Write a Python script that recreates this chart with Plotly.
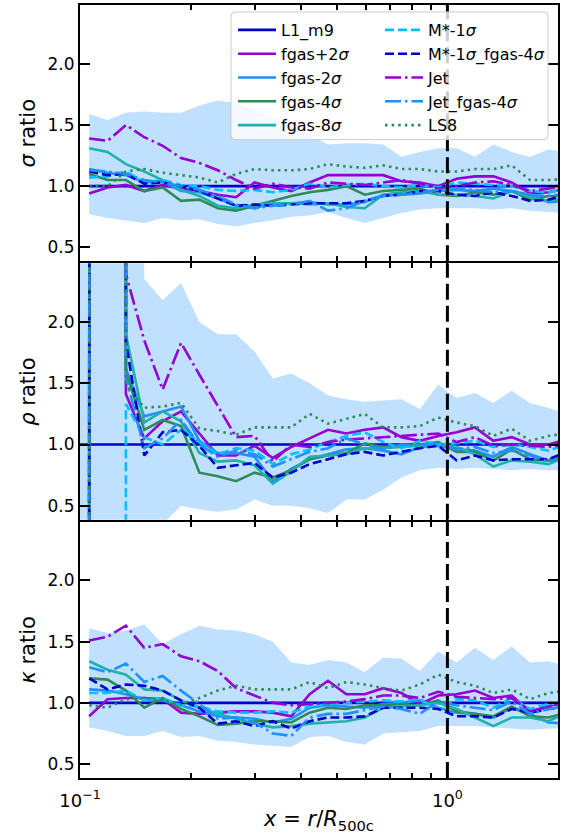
import plotly.graph_objects as go
from plotly.subplots import make_subplots

# Radial bin centres, r / R500c
R = [0.10593, 0.11885, 0.13335, 0.14962, 0.16788, 0.18836, 0.21135, 0.23714,
     0.26607, 0.29854, 0.33497, 0.37584, 0.42170, 0.47315, 0.53088, 0.59566,
     0.66834, 0.74989, 0.84140, 0.94406, 1.05925, 1.18850, 1.33352, 1.49624,
     1.67880, 1.88365, 2.11349]
# density profile has one extra innermost bin
R_MID = [0.09441] + R

R500 = 1.0
YLIM = [0.386, 2.48]

# ---------------- sigma ratio ----------------
sig_L1 = [1.0] * 27
sig_fgas_p2 = [0.94, 0.99, 1.01, 0.96, 1.01, 0.98, 0.96, 0.93, 0.91, 1.03, 0.99, 0.96, 1.03, 1.09,
               1.09, 1.09, 1.09, 1.04, 1.03, 1.00, 1.06, 1.08, 1.08, 1.03, 0.94, 0.95, 0.98]
sig_fgas_m2 = [1.14, 1.11, 1.09, 1.03, 1.04, 0.96, 0.95, 0.90, 0.84, 0.82, 0.86, 0.86, 0.87, 0.85,
               0.85, 0.87, 0.93, 0.93, 0.94, 0.96, 0.97, 0.96, 0.98, 0.96, 0.93, 0.87, 0.88]
sig_fgas_m4 = [1.10, 1.05, 1.05, 0.96, 0.99, 0.88, 0.89, 0.82, 0.80, 0.84, 0.88, 0.92, 0.95, 0.97,
               1.00, 0.93, 0.96, 0.97, 0.98, 0.93, 0.92, 0.95, 0.93, 0.96, 0.89, 0.92, 0.92]
sig_fgas_m8 = [1.31, 1.28, 1.18, 1.12, 1.05, 0.97, 0.92, 0.84, 0.82, 0.85, 0.86, 0.86, 0.85, 0.86,
               0.83, 0.82, 0.93, 0.95, 0.96, 0.93, 0.93, 0.92, 0.90, 0.96, 0.91, 0.88, 0.90]
sig_mstar = [1.07, 1.08, 1.12, 1.03, 1.05, 1.01, 1.00, 0.97, 0.96, 0.97, 0.95, 0.97, 1.02, 0.99,
             1.01, 1.02, 1.00, 0.99, 1.01, 0.99, 1.03, 1.02, 1.01, 1.00, 0.96, 0.95, 0.98]
sig_mstar_fgas = [1.12, 1.09, 1.10, 1.02, 1.03, 1.00, 0.96, 0.90, 0.84, 0.85, 0.84, 0.85, 0.86, 0.86,
                  0.86, 0.88, 0.92, 0.93, 0.96, 0.96, 0.93, 0.92, 0.95, 0.92, 0.88, 0.89, 0.93]
sig_jet = [1.39, 1.37, 1.50, 1.40, 1.33, 1.23, 1.19, 1.13, 1.05, 0.98, 1.02, 0.99, 0.98, 1.03,
           1.02, 1.01, 1.03, 1.05, 1.02, 0.98, 1.00, 1.03, 1.04, 1.01, 0.96, 0.98, 1.00]
sig_jet_fgas = [1.13, 1.12, 1.10, 1.05, 1.03, 1.00, 0.97, 0.92, 0.85, 0.82, 0.84, 0.85, 0.88, 0.80,
                0.82, 0.88, 0.92, 0.93, 0.95, 0.97, 0.98, 0.97, 0.95, 0.96, 0.93, 0.92, 0.94]
sig_ls8 = [1.00, 1.00, 1.12, 1.14, 1.11, 1.09, 1.07, 1.03, 1.10, 1.14, 1.13, 1.13, 1.14, 1.18,
           1.16, 1.15, 1.17, 1.14, 1.14, 1.12, 1.12, 1.14, 1.14, 1.17, 1.05, 1.05, 1.06]
sig_hi = [1.59, 1.54, 1.60, 1.61, 1.60, 1.60, 1.66, 1.70, 1.68, 1.62, 1.56, 1.50, 1.42, 1.34,
          1.35, 1.35, 1.34, 1.24, 1.28, 1.31, 1.31, 1.24, 1.34, 1.28, 1.24, 1.30, 1.28]
sig_lo = [0.77, 0.74, 0.72, 0.70, 0.74, 0.72, 0.73, 0.69, 0.67, 0.70, 0.72, 0.75, 0.76, 0.79,
          0.74, 0.70, 0.74, 0.78, 0.81, 0.82, 0.82, 0.82, 0.81, 0.82, 0.80, 0.79, 0.78]

# ---------------- rho ratio (innermost bins diverge) ----------------
rho_L1 = [1.0] * 28
rho_fgas_p2 = [None, 0.1, 420, 1.41, 1.05, 1.19, 1.27, 1.09, 0.91, 0.91, 0.99, 0.89, 0.98, 1.05, 1.12,
               1.09, 1.12, 1.14, 1.06, 1.03, 1.07, 1.10, 1.14, 1.03, 1.06, 1.00, 1.00, 1.04]
rho_fgas_m2 = [None, 0.1, 380, 1.62, 1.23, 1.27, 1.31, 1.03, 0.93, 0.93, 0.90, 0.70, 0.80, 0.88, 0.92,
               0.96, 0.97, 0.95, 0.92, 0.98, 0.99, 0.96, 0.95, 0.90, 0.98, 0.92, 0.87, 0.93]
rho_fgas_m4 = [None, 0.1, 450, 1.60, 1.12, 1.20, 1.15, 0.77, 0.74, 0.70, 0.77, 0.73, 0.79, 0.88, 0.91,
               0.93, 1.01, 0.98, 0.99, 1.00, 1.02, 0.94, 0.94, 0.87, 0.96, 0.88, 0.87, 0.90]
rho_fgas_m8 = [None, 0.1, 500, 1.90, 1.18, 1.27, 1.19, 0.93, 0.86, 0.87, 0.83, 0.68, 0.78, 0.90, 0.91,
               0.92, 0.97, 0.97, 0.98, 0.99, 1.00, 0.98, 0.92, 0.82, 0.87, 0.86, 0.84, 0.90]
rho_mstar = [None, 0.1, -400, 1.33, 1.06, 1.00, 1.12, 1.02, 0.92, 0.97, 0.95, 0.84, 0.92, 0.96, 1.02,
             1.07, 1.10, 1.02, 0.97, 1.03, 1.00, 1.01, 1.03, 0.98, 1.00, 0.98, 0.95, 1.00]
rho_mstar_fgas = [None, 0.1, 350, 1.84, 0.91, 1.10, 1.12, 0.99, 0.81, 0.83, 0.85, 0.73, 0.77, 0.84, 0.88,
                  0.92, 0.94, 0.91, 0.94, 0.97, 0.99, 0.87, 0.91, 0.87, 0.88, 0.88, 0.88, 0.94]
rho_jet = [None, 0.1, 400, 2.39, 1.85, 1.45, 1.83, 1.57, 1.31, 1.06, 1.07, 0.86, 1.00, 0.98, 1.02,
           1.04, 1.05, 1.06, 1.07, 1.08, 1.09, 1.02, 1.06, 0.99, 1.00, 0.99, 0.98, 1.00]
rho_jet_fgas = [None, 0.1, 300, 1.55, 0.97, 1.05, 1.20, 1.00, 0.90, 0.95, 0.92, 0.82, 0.88, 0.94, 0.97,
                1.05, 1.00, 0.96, 1.00, 0.99, 1.01, 0.96, 0.98, 0.93, 0.95, 0.91, 0.86, 0.90]
rho_ls8 = [None, 0.1, 480, 1.49, 1.30, 1.31, 1.34, 1.13, 1.11, 1.08, 1.14, 1.14, 1.14, 1.25, 1.17,
           1.21, 1.25, 1.14, 1.14, 1.15, 1.22, 1.18, 1.15, 1.07, 1.13, 1.03, 1.07, 1.09]
rho_hi = [600, 600, 600, 600, 2.35, 2.18, 2.32, 2.00, 1.90, 1.90, 1.76, 1.54, 1.58, 1.50, 1.40,
          1.37, 1.35, 1.36, 1.37, 1.29, 1.49, 1.38, 1.42, 1.34, 1.44, 1.34, 1.30, 1.25]
rho_lo = [-600, -600, -600, 0.20, 0.30, 0.35, 0.50, 0.47, 0.45, 0.47, 0.55, 0.50, 0.50, 0.48, 0.44,
          0.55, 0.55, 0.63, 0.73, 0.79, 0.81, 0.80, 0.81, 0.80, 0.79, 0.80, 0.79, 0.79]

# ---------------- kappa ratio ----------------
kap_L1 = [1.0] * 27
kap_fgas_p2 = [0.89, 1.03, 1.04, 1.04, 1.03, 0.92, 0.91, 0.92, 0.93, 0.93, 0.92, 0.89, 1.07, 1.18,
               1.07, 1.07, 1.12, 1.08, 0.99, 1.06, 1.07, 1.10, 1.04, 1.06, 0.93, 0.97, 1.02]
kap_fgas_m2 = [1.11, 1.10, 1.07, 1.03, 1.02, 0.98, 0.93, 0.89, 0.88, 0.87, 0.84, 0.87, 0.96, 0.98,
               0.97, 0.96, 0.99, 1.00, 1.02, 0.96, 0.92, 0.91, 0.88, 0.96, 0.91, 0.84, 0.83]
kap_fgas_m4 = [1.20, 1.19, 1.10, 0.96, 1.04, 0.95, 0.89, 0.82, 0.83, 0.85, 0.85, 0.84, 0.92, 0.96,
               0.95, 0.98, 0.98, 0.99, 0.98, 1.02, 0.93, 0.91, 0.89, 0.97, 0.89, 0.88, 0.92]
kap_fgas_m8 = [1.34, 1.27, 1.23, 1.11, 1.10, 1.02, 0.96, 0.91, 0.87, 0.83, 0.80, 0.81, 0.83, 0.84,
               0.85, 0.88, 0.96, 0.97, 0.98, 1.00, 0.95, 0.88, 0.81, 0.88, 0.88, 0.85, 0.92]
kap_mstar = [1.08, 1.08, 1.10, 1.02, 1.04, 0.98, 0.97, 0.93, 0.92, 0.92, 0.93, 0.92, 0.97, 0.99,
             1.00, 1.01, 1.02, 1.01, 1.03, 0.95, 1.03, 1.02, 0.96, 1.04, 0.95, 0.99, 1.00]
kap_mstar_fgas = [1.20, 1.11, 1.15, 1.14, 1.10, 1.02, 0.96, 0.83, 0.85, 0.81, 0.85, 0.79, 0.85, 0.88,
                  0.88, 0.89, 0.96, 0.96, 0.96, 0.95, 0.89, 0.89, 0.88, 0.95, 0.92, 0.95, 0.97]
kap_jet = [1.51, 1.54, 1.63, 1.45, 1.48, 1.38, 1.34, 1.26, 1.12, 1.06, 1.00, 0.98, 0.99, 1.00,
           1.01, 1.03, 1.06, 1.06, 1.04, 1.09, 1.05, 1.04, 1.03, 1.04, 0.93, 0.97, 1.00]
kap_jet_fgas = [1.29, 1.25, 1.32, 1.17, 1.22, 1.10, 0.99, 0.87, 0.88, 0.84, 0.75, 0.73, 0.88, 0.91,
                0.91, 0.94, 0.97, 0.95, 0.91, 1.01, 0.98, 0.96, 0.94, 1.01, 0.91, 0.95, 0.97]
kap_ls8 = [0.98, 0.96, 1.03, 1.04, 1.02, 0.99, 1.04, 1.10, 1.14, 1.11, 1.11, 1.11, 1.17, 1.12,
           1.17, 1.15, 1.12, 1.10, 1.15, 1.23, 1.17, 1.14, 1.08, 1.11, 1.03, 1.08, 1.10]
kap_hi = [1.61, 1.57, 1.59, 1.64, 1.48, 1.56, 1.63, 1.60, 1.59, 1.56, 1.50, 1.33, 1.31, 1.35,
          1.33, 1.25, 1.37, 1.36, 1.26, 1.42, 1.33, 1.45, 1.35, 1.46, 1.33, 1.34, 1.30]
kap_lo = [0.80, 0.77, 0.73, 0.73, 0.77, 0.72, 0.73, 0.69, 0.68, 0.66, 0.65, 0.64, 0.72, 0.73,
          0.68, 0.66, 0.75, 0.76, 0.77, 0.81, 0.81, 0.81, 0.80, 0.79, 0.78, 0.79, 0.79]

LABELS = ["L1_m9", "fgas+2<i>σ</i>", "fgas-2<i>σ</i>", "fgas-4<i>σ</i>", "fgas-8<i>σ</i>",
          "M*-1<i>σ</i>", "M*-1<i>σ</i>_fgas-4<i>σ</i>", "Jet", "Jet_fgas-4<i>σ</i>", "LS8"]
COLORS = ["#0000CD", "#9400D3", "#1E90FF", "#2E8B57", "#20B2AA",
          "#00BFFF", "#0000CD", "#9400D3", "#1E90FF", "#2E8B57"]
DASHED = "9px,4px"
DASHDOT = "16px,4px,2.5px,4px"
DOTTED = "2.5px,4.1px"
DASHES = ["solid", "solid", "solid", "solid", "solid",
          DASHED, DASHED, DASHDOT, DASHDOT, DOTTED]

PANELS = [
    (R, [sig_L1, sig_fgas_p2, sig_fgas_m2, sig_fgas_m4, sig_fgas_m8,
         sig_mstar, sig_mstar_fgas, sig_jet, sig_jet_fgas, sig_ls8], sig_hi, sig_lo,
     "<i>σ</i> ratio"),
    (R_MID, [rho_L1, rho_fgas_p2, rho_fgas_m2, rho_fgas_m4, rho_fgas_m8,
             rho_mstar, rho_mstar_fgas, rho_jet, rho_jet_fgas, rho_ls8], rho_hi, rho_lo,
     "<i>ρ</i> ratio"),
    (R, [kap_L1, kap_fgas_p2, kap_fgas_m2, kap_fgas_m4, kap_fgas_m8,
         kap_mstar, kap_mstar_fgas, kap_jet, kap_jet_fgas, kap_ls8], kap_hi, kap_lo,
     "<i>κ</i> ratio"),
]

FONT = "DejaVu Sans"
BAND = "rgba(30,144,255,0.28)"

PLOT_L, PLOT_R, PLOT_T, PLOT_B = 80, 558, 3, 778
# the axis lines sit just outside each panel; a 2 px gap makes neighbouring
# panels share a single boundary line
GAP = 2 / (PLOT_B - PLOT_T)

fig = make_subplots(rows=3, cols=1, shared_xaxes=True, vertical_spacing=GAP)

for row, (xs, series, hi, lo, ytitle) in enumerate(PANELS, start=1):
    # scatter band
    fig.add_trace(go.Scatter(x=xs + xs[::-1], y=hi + lo[::-1], mode="lines", fill="toself",
                             fillcolor=BAND, line=dict(width=0), showlegend=False,
                             hoverinfo="skip"), row=row, col=1)
    for i, ys in enumerate(series):
        fig.add_trace(go.Scatter(
            x=xs, y=ys, mode="lines", name=LABELS[i],
            line=dict(color=COLORS[i], width=2.6, dash=DASHES[i]),
            connectgaps=False,
            showlegend=(row == 1),
            legend="legend" if i < 5 else "legend2"), row=row, col=1)
    # R500c marker
    fig.add_trace(go.Scatter(x=[R500, R500], y=YLIM, mode="lines",
                             line=dict(color="black", width=3, dash="16px,6px"),
                             showlegend=False, hoverinfo="skip"), row=row, col=1)
    fig.update_yaxes(title=dict(text=ytitle, font=dict(size=21, family=FONT), standoff=6),
                     row=row, col=1)

fig.update_xaxes(type="log", range=[-1, 0.30103],
                 tickvals=[0.1, 1], ticktext=["10<sup>−1</sup>", "10<sup>0</sup>"],
                 ticks="inside", ticklen=10, tickwidth=2, tickcolor="black",
                 ticklabelstandoff=5,
                 minor=dict(tickvals=[0.2, 0.3, 0.4, 0.5, 0.6, 0.7, 0.8, 0.9, 2],
                            ticks="inside", ticklen=5, tickwidth=1.5, tickcolor="black",
                            showgrid=False),
                 showline=True, linewidth=2, linecolor="black", mirror="allticks",
                 showgrid=False, zeroline=False,
                 tickfont=dict(size=18, family=FONT, color="black"))
fig.update_xaxes(title=dict(text="<i>x</i> = <i>r</i>/<i>R</i><sub>500c</sub>",
                            font=dict(size=21, family=FONT), standoff=2), row=3, col=1)

fig.update_yaxes(range=YLIM, tickvals=[0.5, 1.0, 1.5, 2.0],
                 ticktext=["0.5", "1.0", "1.5", "2.0"],
                 ticks="inside", ticklen=10, tickwidth=2, tickcolor="black",
                 showline=True, linewidth=2, linecolor="black", mirror="allticks",
                 showgrid=False, zeroline=False,
                 tickfont=dict(size=17, family=FONT, color="black"))

# legend frame spanning both legend columns
def px(x):
    return (x - PLOT_L) / (PLOT_R - PLOT_L)
def py(y):
    return (PLOT_B - y) / (PLOT_B - PLOT_T)
x0, x1, y0, y1 = px(231), px(548), py(138), py(10)
rx, ry = 4 / (PLOT_R - PLOT_L), 4 / (PLOT_B - PLOT_T)
frame = (f"M{x0+rx},{y1} L{x1-rx},{y1} Q{x1},{y1} {x1},{y1-ry} L{x1},{y0+ry} "
         f"Q{x1},{y0} {x1-rx},{y0} L{x0+rx},{y0} Q{x0},{y0} {x0},{y0+ry} "
         f"L{x0},{y1-ry} Q{x0},{y1} {x0+rx},{y1} Z")
fig.add_shape(type="path", path=frame, xref="paper", yref="paper", layer="above",
              fillcolor="rgba(255,255,255,0.8)", line=dict(color="#cccccc", width=1))

legend_style = dict(xanchor="left", yanchor="top", bgcolor="rgba(0,0,0,0)",
                    borderwidth=0, font=dict(size=16, family=FONT, color="black"),
                    tracegroupgap=0, itemwidth=38)
fig.update_layout(
    width=567, height=837,
    margin=dict(l=PLOT_L, r=567 - PLOT_R, t=PLOT_T, b=837 - PLOT_B),
    paper_bgcolor="white", plot_bgcolor="white",
    font=dict(family=FONT, color="black"),
    legend=dict(x=px(233), y=py(11), **legend_style),
    legend2=dict(x=px(380), y=py(11), **legend_style),
)

fig.write_html("out.html")
